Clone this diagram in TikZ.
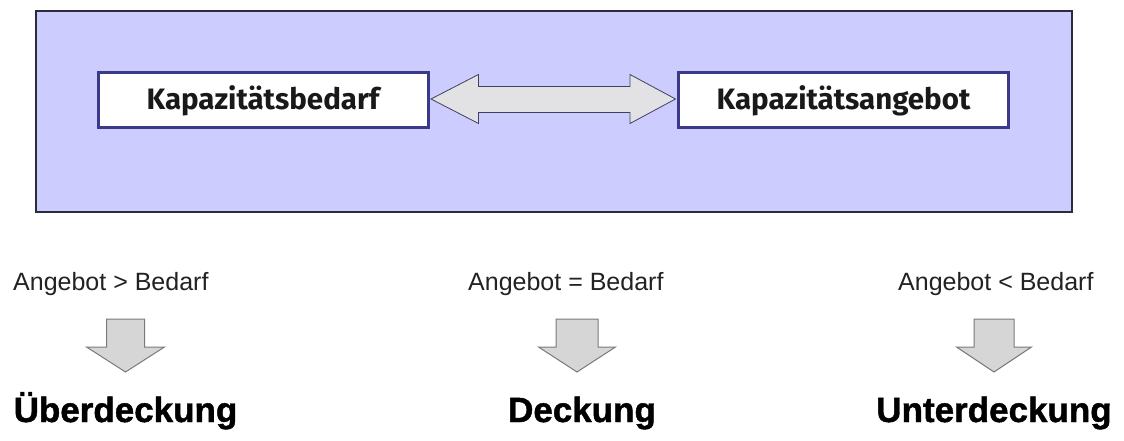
\documentclass[tikz,border=0pt]{standalone}
\usepackage{fontspec}
\setmainfont{Liberation Sans}
\newfontfamily\boxfont{Fira Sans}
\newfontfamily\heavyfont{Liberation Sans Bold}[FakeBold=1.3]
\usetikzlibrary{calc}
\definecolor{boxfill}{HTML}{CCCCFF}
\definecolor{boxline}{HTML}{2B2B3B}
\definecolor{nodeline}{HTML}{3A3A88}
\definecolor{dblfill}{HTML}{E2E2E4}
\definecolor{dblline}{HTML}{404060}
\definecolor{downfill}{HTML}{D6D6D6}
\definecolor{downline}{HTML}{7A7A7A}
\definecolor{condtext}{HTML}{222222}
\tikzset{
  bigbox/.style={draw=boxline, line width=1.4pt, fill=boxfill},
  capbox/.style={draw=nodeline, line width=3pt, fill=white, minimum width=330pt, minimum height=55pt, inner sep=0pt, text=black!90, font=\boxfont\bfseries\fontsize{29.5}{32}\selectfont},
  dblarrow/.style={draw=dblline, line width=0.8pt, fill=dblfill, line join=miter},
  downarrow/.style={draw=downline, line width=1pt, fill=downfill, line join=miter},
  condlabel/.style={anchor=base west, inner sep=0pt, text=condtext, font=\fontsize{25}{28}\selectfont},
  resultlabel/.style={anchor=base, inner sep=0pt, text=black, font=\heavyfont\fontsize{35}{40}\selectfont}
}
\newcommand\downarrowfrom[3]{% #1 top coordinate, #2 shaft half width, #3 head half width
  \draw[downarrow] ($(#1)+(-#2,0)$) -- ($(#1)+(#2,0)$) -- ($(#1)+(#2,28)$) -- ($(#1)+(#3,28)$)
    -- ($(#1)+(0,53)$) -- ($(#1)+(-#3,28)$) -- ($(#1)+(-#2,28)$) -- cycle;}
\begin{document}
\begin{tikzpicture}[x=1pt,y=-1pt]
\useasboundingbox[fill=white] (0,0) rectangle (1124,441);
\draw[bigbox] (36,11) rectangle (1072,212);
\node[capbox] (bedarf) at (263,100.5) {Kapazitätsbedarf};
\node[capbox] (angebot) at (843.5,100.5) {Kapazitätsangebot};
% double arrow between the two nodes
\path (bedarf.east) coordinate (L) (angebot.west) coordinate (R);
\draw[dblarrow] ($(L)+(1.5,-1.5)$) -- ($(L)+(49,-26)$) -- ($(L)+(49,-14)$) -- ($(R)+(-47,-14)$)
  -- ($(R)+(-47,-26)$) -- ($(R)+(-1.5,-1.5)$) -- ($(R)+(-47,23)$) -- ($(R)+(-47,12)$)
  -- ($(L)+(49,12)$) -- ($(L)+(49,23)$) -- cycle;
% conditions
\node[condlabel] (c1) at (13,290) {Angebot > Bedarf};
\node[condlabel] (c2) at (468,290) {Angebot = Bedarf};
\node[condlabel] (c3) at (898,290) {Angebot < Bedarf};
% results
\node[resultlabel] (r1) at (125.5,422) {Überdeckung};
\node[resultlabel] (r2) at (582,422) {Deckung};
\node[resultlabel] (r3) at (994,422) {Unterdeckung};
% down arrows
\coordinate (a1) at (r1.north |- 0,319);
\coordinate (a2) at (577,319);
\coordinate (a3) at (r3.north |- 0,319);
\downarrowfrom{a1}{19}{39}
\downarrowfrom{a2}{21}{38.5}
\downarrowfrom{a3}{20}{37.5}
\end{tikzpicture}
\end{document}
